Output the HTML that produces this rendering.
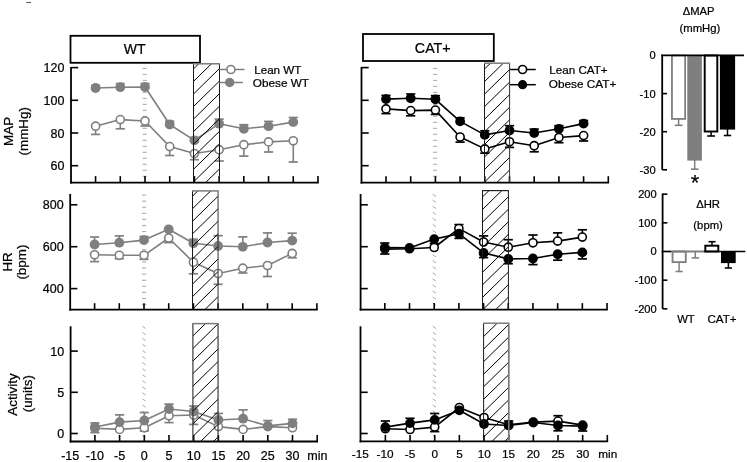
<!DOCTYPE html>
<html><head><meta charset="utf-8"><style>html,body{margin:0;padding:0;background:#fff;width:747px;height:462px;overflow:hidden}body{font-family:"Liberation Sans", sans-serif;position:relative}svg text{stroke:#000;stroke-width:0.22px;paint-order:stroke}</style></head><body>
<svg width="747" height="462" viewBox="0 0 747 462" style="position:absolute;left:0;top:0;font-family:'Liberation Sans', sans-serif;filter:grayscale(1)">
<defs><clipPath id="h1"><rect x="193.5" y="63.8" width="26" height="118.5"/></clipPath><clipPath id="h2"><rect x="192.5" y="190.9" width="25.55" height="118.6"/></clipPath><clipPath id="h3"><rect x="192.9" y="323.6" width="25.15" height="117.7"/></clipPath><clipPath id="h4"><rect x="484.5" y="63.2" width="25.1" height="119.1"/></clipPath><clipPath id="h5"><rect x="482.5" y="190.6" width="25.9" height="119"/></clipPath><clipPath id="h6"><rect x="483.6" y="323.2" width="25.2" height="118"/></clipPath></defs>
<rect width="747" height="462" fill="#fff"/>
<line x1="26.3" y1="2.5" x2="31" y2="2.5" stroke="#555" stroke-width="1"/>
<rect x="70.5" y="35.8" width="129.5" height="27" fill="none" stroke="#000" stroke-width="1.8"/>
<text x="134.6" y="54.1" font-size="14" text-anchor="middle">WT</text>
<rect x="363" y="34" width="130.8" height="27" fill="none" stroke="#000" stroke-width="1.8"/>
<text x="432.75" y="52.75" font-size="14.25" text-anchor="middle">CAT+</text>
<text transform="translate(12.7,131.4) rotate(-90)" font-size="13.4" text-anchor="middle">MAP</text>
<text transform="translate(28.2,131.3) rotate(-90)" font-size="13.4" text-anchor="middle">(mmHg)</text>
<text transform="translate(11.7,261.9) rotate(-90)" font-size="13.4" text-anchor="middle">HR</text>
<text transform="translate(26.2,262.1) rotate(-90)" font-size="13.4" text-anchor="middle">(bpm)</text>
<text transform="translate(16.8,394.5) rotate(-90)" font-size="13.4" text-anchor="middle">Activity</text>
<text transform="translate(32.3,393.7) rotate(-90)" font-size="13.4" text-anchor="middle">(units)</text>
<path d="M142.6,68.4h4.2M142.6,74.39h4.2M142.6,80.38h4.2M142.6,86.37h4.2M142.6,92.36h4.2M142.6,98.35h4.2M142.6,104.34h4.2M142.6,110.33h4.2M142.6,116.32h4.2M142.6,122.31h4.2M142.6,128.3h4.2M142.6,134.29h4.2M142.6,140.28h4.2M142.6,146.27h4.2M142.6,152.26h4.2M142.6,158.25h4.2M142.6,164.24h4.2M142.6,170.23h4.2M142.6,176.22h4.2" stroke="#a8a8a8" stroke-width="1" fill="none"/>
<line x1="71" y1="67" x2="71" y2="183.5" stroke="#000" stroke-width="1.8"/>
<line x1="71" y1="67.6" x2="78.2" y2="67.6" stroke="#000" stroke-width="1.6"/>
<text x="64.4" y="72.1" font-size="12.5" text-anchor="end">120</text>
<line x1="71" y1="100.3" x2="78.2" y2="100.3" stroke="#000" stroke-width="1.6"/>
<text x="64.4" y="104.8" font-size="12.5" text-anchor="end">100</text>
<line x1="71" y1="133" x2="78.2" y2="133" stroke="#000" stroke-width="1.6"/>
<text x="64.4" y="137.5" font-size="12.5" text-anchor="end">80</text>
<line x1="71" y1="165.7" x2="78.2" y2="165.7" stroke="#000" stroke-width="1.6"/>
<text x="64.4" y="170.2" font-size="12.5" text-anchor="end">60</text>
<line x1="70.1" y1="182.6" x2="318.77" y2="182.6" stroke="#000" stroke-width="1.8"/>
<line x1="95.58" y1="182.6" x2="95.58" y2="176.1" stroke="#000" stroke-width="1.6"/>
<line x1="120.29" y1="182.6" x2="120.29" y2="176.1" stroke="#000" stroke-width="1.6"/>
<line x1="145" y1="182.6" x2="145" y2="176.1" stroke="#000" stroke-width="1.6"/>
<line x1="169.71" y1="182.6" x2="169.71" y2="176.1" stroke="#000" stroke-width="1.6"/>
<line x1="194.42" y1="182.6" x2="194.42" y2="176.1" stroke="#000" stroke-width="1.6"/>
<line x1="219.13" y1="182.6" x2="219.13" y2="176.1" stroke="#000" stroke-width="1.6"/>
<line x1="243.84" y1="182.6" x2="243.84" y2="176.1" stroke="#000" stroke-width="1.6"/>
<line x1="268.55" y1="182.6" x2="268.55" y2="176.1" stroke="#000" stroke-width="1.6"/>
<line x1="293.26" y1="182.6" x2="293.26" y2="176.1" stroke="#000" stroke-width="1.6"/>
<line x1="317.97" y1="182.6" x2="317.97" y2="176.1" stroke="#000" stroke-width="1.6"/>
<polyline points="95.58,126.2 120.29,119.6 145,121 169.71,146.6 194.42,153.5 219.13,149.7 243.84,144.7 268.55,141.9 293.26,140.8" fill="none" stroke="#7f7f7f" stroke-width="1.6" stroke-linejoin="round"/>
<line x1="95.58" y1="126.2" x2="95.58" y2="134.4" stroke="#7f7f7f" stroke-width="1.6"/>
<line x1="90.98" y1="134.4" x2="100.18" y2="134.4" stroke="#7f7f7f" stroke-width="1.7"/>
<line x1="120.29" y1="119.6" x2="120.29" y2="128.8" stroke="#7f7f7f" stroke-width="1.6"/>
<line x1="115.69" y1="128.8" x2="124.89" y2="128.8" stroke="#7f7f7f" stroke-width="1.7"/>
<line x1="145" y1="121" x2="145" y2="126" stroke="#7f7f7f" stroke-width="1.6"/>
<line x1="140.4" y1="126" x2="149.6" y2="126" stroke="#7f7f7f" stroke-width="1.7"/>
<line x1="169.71" y1="146.6" x2="169.71" y2="155.5" stroke="#7f7f7f" stroke-width="1.6"/>
<line x1="165.11" y1="155.5" x2="174.31" y2="155.5" stroke="#7f7f7f" stroke-width="1.7"/>
<line x1="194.42" y1="153.5" x2="194.42" y2="159.7" stroke="#7f7f7f" stroke-width="1.6"/>
<line x1="189.82" y1="159.7" x2="199.02" y2="159.7" stroke="#7f7f7f" stroke-width="1.7"/>
<line x1="219.13" y1="149.7" x2="219.13" y2="161" stroke="#7f7f7f" stroke-width="1.6"/>
<line x1="214.53" y1="161" x2="223.73" y2="161" stroke="#7f7f7f" stroke-width="1.7"/>
<line x1="243.84" y1="144.7" x2="243.84" y2="156.1" stroke="#7f7f7f" stroke-width="1.6"/>
<line x1="239.24" y1="156.1" x2="248.44" y2="156.1" stroke="#7f7f7f" stroke-width="1.7"/>
<line x1="268.55" y1="141.9" x2="268.55" y2="152" stroke="#7f7f7f" stroke-width="1.6"/>
<line x1="263.95" y1="152" x2="273.15" y2="152" stroke="#7f7f7f" stroke-width="1.7"/>
<line x1="293.26" y1="140.8" x2="293.26" y2="162" stroke="#7f7f7f" stroke-width="1.6"/>
<line x1="288.66" y1="162" x2="297.86" y2="162" stroke="#7f7f7f" stroke-width="1.7"/>
<polyline points="95.58,88 120.29,87.2 145,87 169.71,124.5 194.42,140.3 219.13,123.7 243.84,128.8 268.55,126.2 293.26,122.1" fill="none" stroke="#7f7f7f" stroke-width="1.6" stroke-linejoin="round"/>
<line x1="95.58" y1="88" x2="95.58" y2="85.5" stroke="#7f7f7f" stroke-width="1.6"/>
<line x1="90.98" y1="85.5" x2="100.18" y2="85.5" stroke="#7f7f7f" stroke-width="1.7"/>
<line x1="120.29" y1="87.2" x2="120.29" y2="83.6" stroke="#7f7f7f" stroke-width="1.6"/>
<line x1="115.69" y1="83.6" x2="124.89" y2="83.6" stroke="#7f7f7f" stroke-width="1.7"/>
<line x1="145" y1="87" x2="145" y2="83.6" stroke="#7f7f7f" stroke-width="1.6"/>
<line x1="140.4" y1="83.6" x2="149.6" y2="83.6" stroke="#7f7f7f" stroke-width="1.7"/>
<line x1="169.71" y1="124.5" x2="169.71" y2="121.2" stroke="#7f7f7f" stroke-width="1.6"/>
<line x1="165.11" y1="121.2" x2="174.31" y2="121.2" stroke="#7f7f7f" stroke-width="1.7"/>
<line x1="194.42" y1="140.3" x2="194.42" y2="137.5" stroke="#7f7f7f" stroke-width="1.6"/>
<line x1="189.82" y1="137.5" x2="199.02" y2="137.5" stroke="#7f7f7f" stroke-width="1.7"/>
<line x1="219.13" y1="123.7" x2="219.13" y2="119.1" stroke="#7f7f7f" stroke-width="1.6"/>
<line x1="214.53" y1="119.1" x2="223.73" y2="119.1" stroke="#7f7f7f" stroke-width="1.7"/>
<line x1="243.84" y1="128.8" x2="243.84" y2="124.7" stroke="#7f7f7f" stroke-width="1.6"/>
<line x1="239.24" y1="124.7" x2="248.44" y2="124.7" stroke="#7f7f7f" stroke-width="1.7"/>
<line x1="268.55" y1="126.2" x2="268.55" y2="121.4" stroke="#7f7f7f" stroke-width="1.6"/>
<line x1="263.95" y1="121.4" x2="273.15" y2="121.4" stroke="#7f7f7f" stroke-width="1.7"/>
<line x1="293.26" y1="122.1" x2="293.26" y2="117.5" stroke="#7f7f7f" stroke-width="1.6"/>
<line x1="288.66" y1="117.5" x2="297.86" y2="117.5" stroke="#7f7f7f" stroke-width="1.7"/>
<circle cx="95.58" cy="126.2" r="4.05" fill="#fff" stroke="#7f7f7f" stroke-width="1.6"/>
<circle cx="120.29" cy="119.6" r="4.05" fill="#fff" stroke="#7f7f7f" stroke-width="1.6"/>
<circle cx="145" cy="121" r="4.05" fill="#fff" stroke="#7f7f7f" stroke-width="1.6"/>
<circle cx="169.71" cy="146.6" r="4.05" fill="#fff" stroke="#7f7f7f" stroke-width="1.6"/>
<circle cx="194.42" cy="153.5" r="4.05" fill="#fff" stroke="#7f7f7f" stroke-width="1.6"/>
<circle cx="219.13" cy="149.7" r="4.05" fill="#fff" stroke="#7f7f7f" stroke-width="1.6"/>
<circle cx="243.84" cy="144.7" r="4.05" fill="#fff" stroke="#7f7f7f" stroke-width="1.6"/>
<circle cx="268.55" cy="141.9" r="4.05" fill="#fff" stroke="#7f7f7f" stroke-width="1.6"/>
<circle cx="293.26" cy="140.8" r="4.05" fill="#fff" stroke="#7f7f7f" stroke-width="1.6"/>
<circle cx="95.58" cy="88" r="4.9" fill="#7f7f7f"/>
<circle cx="120.29" cy="87.2" r="4.9" fill="#7f7f7f"/>
<circle cx="145" cy="87" r="4.9" fill="#7f7f7f"/>
<circle cx="169.71" cy="124.5" r="4.9" fill="#7f7f7f"/>
<circle cx="194.42" cy="140.3" r="4.9" fill="#7f7f7f"/>
<circle cx="219.13" cy="123.7" r="4.9" fill="#7f7f7f"/>
<circle cx="243.84" cy="128.8" r="4.9" fill="#7f7f7f"/>
<circle cx="268.55" cy="126.2" r="4.9" fill="#7f7f7f"/>
<circle cx="293.26" cy="122.1" r="4.9" fill="#7f7f7f"/>
<path clip-path="url(#h1)" d="M192.5,44.7L220.5,17.26M192.5,57.26L220.5,29.82M192.5,69.82L220.5,42.38M192.5,82.38L220.5,54.94M192.5,94.94L220.5,67.5M192.5,107.5L220.5,80.06M192.5,120.06L220.5,92.62M192.5,132.62L220.5,105.18M192.5,145.18L220.5,117.74M192.5,157.74L220.5,130.3M192.5,170.3L220.5,142.86M192.5,182.86L220.5,155.42M192.5,195.42L220.5,167.98M192.5,207.98L220.5,180.54M192.5,220.54L220.5,193.1M192.5,233.1L220.5,205.66" stroke="#000" stroke-width="1.0" fill="none"/>
<line x1="193.5" y1="63.8" x2="193.5" y2="182.3" stroke="#1a1a1a" stroke-width="1.0"/>
<line x1="219.5" y1="63.8" x2="219.5" y2="182.3" stroke="#1a1a1a" stroke-width="1.0"/>
<line x1="193" y1="63.8" x2="220" y2="63.8" stroke="#7a7a7a" stroke-width="1.5"/>
<line x1="219.3" y1="69.5" x2="244.4" y2="69.5" stroke="#7f7f7f" stroke-width="1.5"/>
<circle cx="230.9" cy="69.5" r="4" fill="#fff" stroke="#7f7f7f" stroke-width="1.6"/>
<line x1="219.3" y1="82.5" x2="242.9" y2="82.5" stroke="#7f7f7f" stroke-width="1.5"/>
<circle cx="229.7" cy="82.5" r="4.75" fill="#7f7f7f"/>
<text x="254.2" y="73.7" font-size="11.65">Lean WT</text>
<text x="252.8" y="86.6" font-size="11.75">Obese WT</text>
<path d="M142,195.1h4.2M142,201.18h4.2M142,207.26h4.2M142,213.34h4.2M142,219.42h4.2M142,225.5h4.2M142,231.58h4.2M142,237.66h4.2M142,243.74h4.2M142,249.82h4.2M142,255.9h4.2M142,261.98h4.2M142,268.06h4.2M142,274.14h4.2M142,280.22h4.2M142,286.3h4.2M142,292.38h4.2M142,298.46h4.2M142,304.54h4.2" stroke="#a8a8a8" stroke-width="1" fill="none"/>
<line x1="70.2" y1="194" x2="70.2" y2="310.6" stroke="#000" stroke-width="1.8"/>
<line x1="70.2" y1="204.8" x2="77.4" y2="204.8" stroke="#000" stroke-width="1.6"/>
<text x="63.6" y="209.3" font-size="12.5" text-anchor="end">800</text>
<line x1="70.2" y1="246.7" x2="77.4" y2="246.7" stroke="#000" stroke-width="1.6"/>
<text x="63.6" y="251.2" font-size="12.5" text-anchor="end">600</text>
<line x1="70.2" y1="288.6" x2="77.4" y2="288.6" stroke="#000" stroke-width="1.6"/>
<text x="63.6" y="293.1" font-size="12.5" text-anchor="end">400</text>
<line x1="69.3" y1="309.7" x2="317.7" y2="309.7" stroke="#000" stroke-width="1.8"/>
<line x1="94.6" y1="309.7" x2="94.6" y2="303.2" stroke="#000" stroke-width="1.6"/>
<line x1="119.3" y1="309.7" x2="119.3" y2="303.2" stroke="#000" stroke-width="1.6"/>
<line x1="144" y1="309.7" x2="144" y2="303.2" stroke="#000" stroke-width="1.6"/>
<line x1="168.7" y1="309.7" x2="168.7" y2="303.2" stroke="#000" stroke-width="1.6"/>
<line x1="193.4" y1="309.7" x2="193.4" y2="303.2" stroke="#000" stroke-width="1.6"/>
<line x1="218.1" y1="309.7" x2="218.1" y2="303.2" stroke="#000" stroke-width="1.6"/>
<line x1="242.8" y1="309.7" x2="242.8" y2="303.2" stroke="#000" stroke-width="1.6"/>
<line x1="267.5" y1="309.7" x2="267.5" y2="303.2" stroke="#000" stroke-width="1.6"/>
<line x1="292.2" y1="309.7" x2="292.2" y2="303.2" stroke="#000" stroke-width="1.6"/>
<line x1="316.9" y1="309.7" x2="316.9" y2="303.2" stroke="#000" stroke-width="1.6"/>
<polyline points="94.6,254.8 119.3,255.3 144,255.3 168.7,238 193.4,262.2 218.1,273.5 242.8,268.2 267.5,265.5 292.2,253.4" fill="none" stroke="#7f7f7f" stroke-width="1.6" stroke-linejoin="round"/>
<line x1="94.6" y1="254.8" x2="94.6" y2="261.6" stroke="#7f7f7f" stroke-width="1.6"/>
<line x1="90" y1="261.6" x2="99.2" y2="261.6" stroke="#7f7f7f" stroke-width="1.7"/>
<line x1="119.3" y1="255.3" x2="119.3" y2="258.7" stroke="#7f7f7f" stroke-width="1.6"/>
<line x1="114.7" y1="258.7" x2="123.9" y2="258.7" stroke="#7f7f7f" stroke-width="1.7"/>
<line x1="144" y1="255.3" x2="144" y2="259.3" stroke="#7f7f7f" stroke-width="1.6"/>
<line x1="139.4" y1="259.3" x2="148.6" y2="259.3" stroke="#7f7f7f" stroke-width="1.7"/>
<line x1="168.7" y1="238" x2="168.7" y2="242.6" stroke="#7f7f7f" stroke-width="1.6"/>
<line x1="164.1" y1="242.6" x2="173.3" y2="242.6" stroke="#7f7f7f" stroke-width="1.7"/>
<line x1="193.4" y1="262.2" x2="193.4" y2="273.8" stroke="#7f7f7f" stroke-width="1.6"/>
<line x1="188.8" y1="273.8" x2="198" y2="273.8" stroke="#7f7f7f" stroke-width="1.7"/>
<line x1="218.1" y1="273.5" x2="218.1" y2="284.3" stroke="#7f7f7f" stroke-width="1.6"/>
<line x1="213.5" y1="284.3" x2="222.7" y2="284.3" stroke="#7f7f7f" stroke-width="1.7"/>
<line x1="242.8" y1="268.2" x2="242.8" y2="273" stroke="#7f7f7f" stroke-width="1.6"/>
<line x1="238.2" y1="273" x2="247.4" y2="273" stroke="#7f7f7f" stroke-width="1.7"/>
<line x1="267.5" y1="265.5" x2="267.5" y2="276.5" stroke="#7f7f7f" stroke-width="1.6"/>
<line x1="262.9" y1="276.5" x2="272.1" y2="276.5" stroke="#7f7f7f" stroke-width="1.7"/>
<line x1="292.2" y1="253.4" x2="292.2" y2="257.8" stroke="#7f7f7f" stroke-width="1.6"/>
<line x1="287.6" y1="257.8" x2="296.8" y2="257.8" stroke="#7f7f7f" stroke-width="1.7"/>
<polyline points="94.6,244.5 119.3,242.7 144,240.1 168.7,229.3 193.4,243.3 218.1,246 242.8,246.8 267.5,242.5 292.2,240.6" fill="none" stroke="#7f7f7f" stroke-width="1.6" stroke-linejoin="round"/>
<line x1="94.6" y1="244.5" x2="94.6" y2="237" stroke="#7f7f7f" stroke-width="1.6"/>
<line x1="90" y1="237" x2="99.2" y2="237" stroke="#7f7f7f" stroke-width="1.7"/>
<line x1="119.3" y1="242.7" x2="119.3" y2="235.9" stroke="#7f7f7f" stroke-width="1.6"/>
<line x1="114.7" y1="235.9" x2="123.9" y2="235.9" stroke="#7f7f7f" stroke-width="1.7"/>
<line x1="144" y1="240.1" x2="144" y2="236.5" stroke="#7f7f7f" stroke-width="1.6"/>
<line x1="139.4" y1="236.5" x2="148.6" y2="236.5" stroke="#7f7f7f" stroke-width="1.7"/>
<line x1="193.4" y1="243.3" x2="193.4" y2="239.3" stroke="#7f7f7f" stroke-width="1.6"/>
<line x1="188.8" y1="239.3" x2="198" y2="239.3" stroke="#7f7f7f" stroke-width="1.7"/>
<line x1="218.1" y1="246" x2="218.1" y2="235.7" stroke="#7f7f7f" stroke-width="1.6"/>
<line x1="213.5" y1="235.7" x2="222.7" y2="235.7" stroke="#7f7f7f" stroke-width="1.7"/>
<line x1="242.8" y1="246.8" x2="242.8" y2="236.9" stroke="#7f7f7f" stroke-width="1.6"/>
<line x1="238.2" y1="236.9" x2="247.4" y2="236.9" stroke="#7f7f7f" stroke-width="1.7"/>
<line x1="267.5" y1="242.5" x2="267.5" y2="232.9" stroke="#7f7f7f" stroke-width="1.6"/>
<line x1="262.9" y1="232.9" x2="272.1" y2="232.9" stroke="#7f7f7f" stroke-width="1.7"/>
<line x1="292.2" y1="240.6" x2="292.2" y2="233.2" stroke="#7f7f7f" stroke-width="1.6"/>
<line x1="287.6" y1="233.2" x2="296.8" y2="233.2" stroke="#7f7f7f" stroke-width="1.7"/>
<circle cx="94.6" cy="254.8" r="4.05" fill="#fff" stroke="#7f7f7f" stroke-width="1.6"/>
<circle cx="119.3" cy="255.3" r="4.05" fill="#fff" stroke="#7f7f7f" stroke-width="1.6"/>
<circle cx="144" cy="255.3" r="4.05" fill="#fff" stroke="#7f7f7f" stroke-width="1.6"/>
<circle cx="168.7" cy="238" r="4.05" fill="#fff" stroke="#7f7f7f" stroke-width="1.6"/>
<circle cx="193.4" cy="262.2" r="4.05" fill="#fff" stroke="#7f7f7f" stroke-width="1.6"/>
<circle cx="218.1" cy="273.5" r="4.05" fill="#fff" stroke="#7f7f7f" stroke-width="1.6"/>
<circle cx="242.8" cy="268.2" r="4.05" fill="#fff" stroke="#7f7f7f" stroke-width="1.6"/>
<circle cx="267.5" cy="265.5" r="4.05" fill="#fff" stroke="#7f7f7f" stroke-width="1.6"/>
<circle cx="292.2" cy="253.4" r="4.05" fill="#fff" stroke="#7f7f7f" stroke-width="1.6"/>
<circle cx="94.6" cy="244.5" r="4.9" fill="#7f7f7f"/>
<circle cx="119.3" cy="242.7" r="4.9" fill="#7f7f7f"/>
<circle cx="144" cy="240.1" r="4.9" fill="#7f7f7f"/>
<circle cx="168.7" cy="229.3" r="4.9" fill="#7f7f7f"/>
<circle cx="193.4" cy="243.3" r="4.9" fill="#7f7f7f"/>
<circle cx="218.1" cy="246" r="4.9" fill="#7f7f7f"/>
<circle cx="242.8" cy="246.8" r="4.9" fill="#7f7f7f"/>
<circle cx="267.5" cy="242.5" r="4.9" fill="#7f7f7f"/>
<circle cx="292.2" cy="240.6" r="4.9" fill="#7f7f7f"/>
<path clip-path="url(#h2)" d="M191.5,172L219.05,145M191.5,184.56L219.05,157.56M191.5,197.12L219.05,170.12M191.5,209.68L219.05,182.68M191.5,222.24L219.05,195.24M191.5,234.8L219.05,207.8M191.5,247.36L219.05,220.36M191.5,259.92L219.05,232.92M191.5,272.48L219.05,245.48M191.5,285.04L219.05,258.04M191.5,297.6L219.05,270.6M191.5,310.16L219.05,283.16M191.5,322.72L219.05,295.72M191.5,335.28L219.05,308.28M191.5,347.84L219.05,320.84M191.5,360.4L219.05,333.4" stroke="#000" stroke-width="1.0" fill="none"/>
<line x1="192.5" y1="190.9" x2="192.5" y2="309.5" stroke="#1a1a1a" stroke-width="1.0"/>
<line x1="218.05" y1="190.9" x2="218.05" y2="309.5" stroke="#333" stroke-width="1.0"/>
<line x1="192" y1="190.9" x2="218.55" y2="190.9" stroke="#7a7a7a" stroke-width="1.5"/>
<path d="M142.45,326.25l3.2,2.3M142.45,332.3l3.2,2.3M142.45,338.35l3.2,2.3M142.45,344.4l3.2,2.3M142.45,350.45l3.2,2.3M142.45,356.5l3.2,2.3M142.45,362.55l3.2,2.3M142.45,368.6l3.2,2.3M142.45,374.65l3.2,2.3M142.45,380.7l3.2,2.3M142.45,386.75l3.2,2.3M142.45,392.8l3.2,2.3M142.45,398.85l3.2,2.3M142.45,404.9l3.2,2.3M142.45,410.95l3.2,2.3M142.45,417l3.2,2.3M142.45,423.05l3.2,2.3M142.45,429.1l3.2,2.3M142.45,435.15l3.2,2.3" stroke="#a8a8a8" stroke-width="1" fill="none"/>
<line x1="70.6" y1="326.3" x2="70.6" y2="442.4" stroke="#000" stroke-width="1.8"/>
<line x1="70.6" y1="351.1" x2="77.8" y2="351.1" stroke="#000" stroke-width="1.6"/>
<text x="64.2" y="355.6" font-size="12.5" text-anchor="end">10</text>
<line x1="70.6" y1="392.3" x2="77.8" y2="392.3" stroke="#000" stroke-width="1.6"/>
<text x="64.2" y="396.8" font-size="12.5" text-anchor="end">5</text>
<line x1="70.6" y1="433.5" x2="77.8" y2="433.5" stroke="#000" stroke-width="1.6"/>
<text x="64.2" y="438" font-size="12.5" text-anchor="end">0</text>
<line x1="69.7" y1="441.5" x2="318" y2="441.5" stroke="#000" stroke-width="1.8"/>
<line x1="94.9" y1="441.5" x2="94.9" y2="435" stroke="#000" stroke-width="1.6"/>
<line x1="119.6" y1="441.5" x2="119.6" y2="435" stroke="#000" stroke-width="1.6"/>
<line x1="144.3" y1="441.5" x2="144.3" y2="435" stroke="#000" stroke-width="1.6"/>
<line x1="169" y1="441.5" x2="169" y2="435" stroke="#000" stroke-width="1.6"/>
<line x1="193.7" y1="441.5" x2="193.7" y2="435" stroke="#000" stroke-width="1.6"/>
<line x1="218.4" y1="441.5" x2="218.4" y2="435" stroke="#000" stroke-width="1.6"/>
<line x1="243.1" y1="441.5" x2="243.1" y2="435" stroke="#000" stroke-width="1.6"/>
<line x1="267.8" y1="441.5" x2="267.8" y2="435" stroke="#000" stroke-width="1.6"/>
<line x1="292.5" y1="441.5" x2="292.5" y2="435" stroke="#000" stroke-width="1.6"/>
<line x1="317.2" y1="441.5" x2="317.2" y2="435" stroke="#000" stroke-width="1.6"/>
<polyline points="94.9,428.2 119.6,429.4 144.3,427.8 169,415.7 193.7,415 218.4,426.6 243.1,429.4 267.8,426.6 292.5,427.7" fill="none" stroke="#7f7f7f" stroke-width="1.6" stroke-linejoin="round"/>
<line x1="94.9" y1="428.2" x2="94.9" y2="432.6" stroke="#7f7f7f" stroke-width="1.6"/>
<line x1="90.3" y1="432.6" x2="99.5" y2="432.6" stroke="#7f7f7f" stroke-width="1.7"/>
<line x1="144.3" y1="427.8" x2="144.3" y2="431" stroke="#7f7f7f" stroke-width="1.6"/>
<line x1="139.7" y1="431" x2="148.9" y2="431" stroke="#7f7f7f" stroke-width="1.7"/>
<line x1="169" y1="415.7" x2="169" y2="422.6" stroke="#7f7f7f" stroke-width="1.6"/>
<line x1="164.4" y1="422.6" x2="173.6" y2="422.6" stroke="#7f7f7f" stroke-width="1.7"/>
<line x1="193.7" y1="415" x2="193.7" y2="424.4" stroke="#7f7f7f" stroke-width="1.6"/>
<line x1="189.1" y1="424.4" x2="198.3" y2="424.4" stroke="#7f7f7f" stroke-width="1.7"/>
<polyline points="94.9,427 119.6,422.1 144.3,420.5 169,409 193.7,411.5 218.4,420 243.1,418.7 267.8,425.9 292.5,423.4" fill="none" stroke="#7f7f7f" stroke-width="1.6" stroke-linejoin="round"/>
<line x1="94.9" y1="427" x2="94.9" y2="423" stroke="#7f7f7f" stroke-width="1.6"/>
<line x1="90.3" y1="423" x2="99.5" y2="423" stroke="#7f7f7f" stroke-width="1.7"/>
<line x1="119.6" y1="422.1" x2="119.6" y2="414.9" stroke="#7f7f7f" stroke-width="1.6"/>
<line x1="115" y1="414.9" x2="124.2" y2="414.9" stroke="#7f7f7f" stroke-width="1.7"/>
<line x1="144.3" y1="420.5" x2="144.3" y2="412.5" stroke="#7f7f7f" stroke-width="1.6"/>
<line x1="139.7" y1="412.5" x2="148.9" y2="412.5" stroke="#7f7f7f" stroke-width="1.7"/>
<line x1="169" y1="409" x2="169" y2="404.1" stroke="#7f7f7f" stroke-width="1.6"/>
<line x1="164.4" y1="404.1" x2="173.6" y2="404.1" stroke="#7f7f7f" stroke-width="1.7"/>
<line x1="193.7" y1="411.5" x2="193.7" y2="406" stroke="#7f7f7f" stroke-width="1.6"/>
<line x1="189.1" y1="406" x2="198.3" y2="406" stroke="#7f7f7f" stroke-width="1.7"/>
<line x1="218.4" y1="420" x2="218.4" y2="413.5" stroke="#7f7f7f" stroke-width="1.6"/>
<line x1="213.8" y1="413.5" x2="223" y2="413.5" stroke="#7f7f7f" stroke-width="1.7"/>
<line x1="243.1" y1="418.7" x2="243.1" y2="409.9" stroke="#7f7f7f" stroke-width="1.6"/>
<line x1="238.5" y1="409.9" x2="247.7" y2="409.9" stroke="#7f7f7f" stroke-width="1.7"/>
<line x1="267.8" y1="425.9" x2="267.8" y2="420.6" stroke="#7f7f7f" stroke-width="1.6"/>
<line x1="263.2" y1="420.6" x2="272.4" y2="420.6" stroke="#7f7f7f" stroke-width="1.7"/>
<line x1="292.5" y1="423.4" x2="292.5" y2="419.3" stroke="#7f7f7f" stroke-width="1.6"/>
<line x1="287.9" y1="419.3" x2="297.1" y2="419.3" stroke="#7f7f7f" stroke-width="1.7"/>
<circle cx="94.9" cy="428.2" r="4.05" fill="#fff" stroke="#7f7f7f" stroke-width="1.6"/>
<circle cx="119.6" cy="429.4" r="4.05" fill="#fff" stroke="#7f7f7f" stroke-width="1.6"/>
<circle cx="144.3" cy="427.8" r="4.05" fill="#fff" stroke="#7f7f7f" stroke-width="1.6"/>
<circle cx="169" cy="415.7" r="4.05" fill="#fff" stroke="#7f7f7f" stroke-width="1.6"/>
<circle cx="193.7" cy="415" r="4.05" fill="#fff" stroke="#7f7f7f" stroke-width="1.6"/>
<circle cx="218.4" cy="426.6" r="4.05" fill="#fff" stroke="#7f7f7f" stroke-width="1.6"/>
<circle cx="243.1" cy="429.4" r="4.05" fill="#fff" stroke="#7f7f7f" stroke-width="1.6"/>
<circle cx="267.8" cy="426.6" r="4.05" fill="#fff" stroke="#7f7f7f" stroke-width="1.6"/>
<circle cx="292.5" cy="427.7" r="4.05" fill="#fff" stroke="#7f7f7f" stroke-width="1.6"/>
<circle cx="94.9" cy="427" r="4.9" fill="#7f7f7f"/>
<circle cx="119.6" cy="422.1" r="4.9" fill="#7f7f7f"/>
<circle cx="144.3" cy="420.5" r="4.9" fill="#7f7f7f"/>
<circle cx="169" cy="409" r="4.9" fill="#7f7f7f"/>
<circle cx="193.7" cy="411.5" r="4.9" fill="#7f7f7f"/>
<circle cx="218.4" cy="420" r="4.9" fill="#7f7f7f"/>
<circle cx="243.1" cy="418.7" r="4.9" fill="#7f7f7f"/>
<circle cx="267.8" cy="425.9" r="4.9" fill="#7f7f7f"/>
<circle cx="292.5" cy="423.4" r="4.9" fill="#7f7f7f"/>
<path clip-path="url(#h3)" d="M191.9,311.8L219.05,285.19M191.9,324.36L219.05,297.75M191.9,336.92L219.05,310.31M191.9,349.48L219.05,322.87M191.9,362.04L219.05,335.43M191.9,374.6L219.05,347.99M191.9,387.16L219.05,360.55M191.9,399.72L219.05,373.11M191.9,412.28L219.05,385.67M191.9,424.84L219.05,398.23M191.9,437.4L219.05,410.79M191.9,449.96L219.05,423.35M191.9,462.52L219.05,435.91M191.9,475.08L219.05,448.47M191.9,487.64L219.05,461.03" stroke="#000" stroke-width="1.0" fill="none"/>
<line x1="192.9" y1="323.6" x2="192.9" y2="441.3" stroke="#2a2a2a" stroke-width="1.1"/>
<line x1="218.05" y1="323.6" x2="218.05" y2="441.3" stroke="#2a2a2a" stroke-width="1.1"/>
<line x1="192.4" y1="323.6" x2="218.55" y2="323.6" stroke="#7a7a7a" stroke-width="1.5"/>
<text x="70.2" y="459.8" font-size="12.5" text-anchor="middle">-15</text>
<text x="94.9" y="459.8" font-size="12.5" text-anchor="middle">-10</text>
<text x="119.6" y="459.8" font-size="12.5" text-anchor="middle">-5</text>
<text x="144.3" y="459.8" font-size="12.5" text-anchor="middle">0</text>
<text x="169" y="459.8" font-size="12.5" text-anchor="middle">5</text>
<text x="193.7" y="459.8" font-size="12.5" text-anchor="middle">10</text>
<text x="218.4" y="459.8" font-size="12.5" text-anchor="middle">15</text>
<text x="243.1" y="459.8" font-size="12.5" text-anchor="middle">20</text>
<text x="267.8" y="459.8" font-size="12.5" text-anchor="middle">25</text>
<text x="292.5" y="459.8" font-size="12.5" text-anchor="middle">30</text>
<text x="307.3" y="459.8" font-size="12.5">min</text>
<path d="M433,68.4h4.2M433,74.39h4.2M433,80.38h4.2M433,86.37h4.2M433,92.36h4.2M433,98.35h4.2M433,104.34h4.2M433,110.33h4.2M433,116.32h4.2M433,122.31h4.2M433,128.3h4.2M433,134.29h4.2M433,140.28h4.2M433,146.27h4.2M433,152.26h4.2M433,158.25h4.2M433,164.24h4.2M433,170.23h4.2M433,176.22h4.2" stroke="#a8a8a8" stroke-width="1" fill="none"/>
<line x1="361.5" y1="67" x2="361.5" y2="183.6" stroke="#000" stroke-width="1.8"/>
<line x1="361.5" y1="67.6" x2="368.7" y2="67.6" stroke="#000" stroke-width="1.6"/>
<line x1="361.5" y1="100.3" x2="368.7" y2="100.3" stroke="#000" stroke-width="1.6"/>
<line x1="361.5" y1="133" x2="368.7" y2="133" stroke="#000" stroke-width="1.6"/>
<line x1="361.5" y1="165.7" x2="368.7" y2="165.7" stroke="#000" stroke-width="1.6"/>
<line x1="360.6" y1="182.7" x2="609.1" y2="182.7" stroke="#000" stroke-width="1.8"/>
<line x1="386" y1="182.7" x2="386" y2="176.2" stroke="#000" stroke-width="1.6"/>
<line x1="410.7" y1="182.7" x2="410.7" y2="176.2" stroke="#000" stroke-width="1.6"/>
<line x1="435.4" y1="182.7" x2="435.4" y2="176.2" stroke="#000" stroke-width="1.6"/>
<line x1="460.1" y1="182.7" x2="460.1" y2="176.2" stroke="#000" stroke-width="1.6"/>
<line x1="484.8" y1="182.7" x2="484.8" y2="176.2" stroke="#000" stroke-width="1.6"/>
<line x1="509.5" y1="182.7" x2="509.5" y2="176.2" stroke="#000" stroke-width="1.6"/>
<line x1="534.2" y1="182.7" x2="534.2" y2="176.2" stroke="#000" stroke-width="1.6"/>
<line x1="558.9" y1="182.7" x2="558.9" y2="176.2" stroke="#000" stroke-width="1.6"/>
<line x1="583.6" y1="182.7" x2="583.6" y2="176.2" stroke="#000" stroke-width="1.6"/>
<line x1="608.3" y1="182.7" x2="608.3" y2="176.2" stroke="#000" stroke-width="1.6"/>
<polyline points="386,108.9 410.7,110.6 435.4,110.1 460.1,137 484.8,148.9 509.5,141.8 534.2,145.7 558.9,137.5 583.6,135.6" fill="none" stroke="#000" stroke-width="1.6" stroke-linejoin="round"/>
<line x1="386" y1="108.9" x2="386" y2="113.6" stroke="#000" stroke-width="1.6"/>
<line x1="381.4" y1="113.6" x2="390.6" y2="113.6" stroke="#000" stroke-width="1.7"/>
<line x1="410.7" y1="110.6" x2="410.7" y2="115.8" stroke="#000" stroke-width="1.6"/>
<line x1="406.1" y1="115.8" x2="415.3" y2="115.8" stroke="#000" stroke-width="1.7"/>
<line x1="435.4" y1="110.1" x2="435.4" y2="114.4" stroke="#000" stroke-width="1.6"/>
<line x1="430.8" y1="114.4" x2="440" y2="114.4" stroke="#000" stroke-width="1.7"/>
<line x1="460.1" y1="137" x2="460.1" y2="142.1" stroke="#000" stroke-width="1.6"/>
<line x1="455.5" y1="142.1" x2="464.7" y2="142.1" stroke="#000" stroke-width="1.7"/>
<line x1="484.8" y1="148.9" x2="484.8" y2="153.2" stroke="#000" stroke-width="1.6"/>
<line x1="480.2" y1="153.2" x2="489.4" y2="153.2" stroke="#000" stroke-width="1.7"/>
<line x1="509.5" y1="141.8" x2="509.5" y2="147.4" stroke="#000" stroke-width="1.6"/>
<line x1="504.9" y1="147.4" x2="514.1" y2="147.4" stroke="#000" stroke-width="1.7"/>
<line x1="534.2" y1="145.7" x2="534.2" y2="151.8" stroke="#000" stroke-width="1.6"/>
<line x1="529.6" y1="151.8" x2="538.8" y2="151.8" stroke="#000" stroke-width="1.7"/>
<line x1="558.9" y1="137.5" x2="558.9" y2="142.7" stroke="#000" stroke-width="1.6"/>
<line x1="554.3" y1="142.7" x2="563.5" y2="142.7" stroke="#000" stroke-width="1.7"/>
<line x1="583.6" y1="135.6" x2="583.6" y2="141" stroke="#000" stroke-width="1.6"/>
<line x1="579" y1="141" x2="588.2" y2="141" stroke="#000" stroke-width="1.7"/>
<polyline points="386,99.1 410.7,98.3 435.4,99.3 460.1,121.4 484.8,134.9 509.5,130.5 534.2,133 558.9,128.8 583.6,123.6" fill="none" stroke="#000" stroke-width="1.6" stroke-linejoin="round"/>
<line x1="386" y1="99.1" x2="386" y2="95.4" stroke="#000" stroke-width="1.6"/>
<line x1="381.4" y1="95.4" x2="390.6" y2="95.4" stroke="#000" stroke-width="1.7"/>
<line x1="410.7" y1="98.3" x2="410.7" y2="94" stroke="#000" stroke-width="1.6"/>
<line x1="406.1" y1="94" x2="415.3" y2="94" stroke="#000" stroke-width="1.7"/>
<line x1="435.4" y1="99.3" x2="435.4" y2="95.7" stroke="#000" stroke-width="1.6"/>
<line x1="430.8" y1="95.7" x2="440" y2="95.7" stroke="#000" stroke-width="1.7"/>
<line x1="460.1" y1="121.4" x2="460.1" y2="117.9" stroke="#000" stroke-width="1.6"/>
<line x1="455.5" y1="117.9" x2="464.7" y2="117.9" stroke="#000" stroke-width="1.7"/>
<line x1="484.8" y1="134.9" x2="484.8" y2="130.8" stroke="#000" stroke-width="1.6"/>
<line x1="480.2" y1="130.8" x2="489.4" y2="130.8" stroke="#000" stroke-width="1.7"/>
<line x1="509.5" y1="130.5" x2="509.5" y2="125.7" stroke="#000" stroke-width="1.6"/>
<line x1="504.9" y1="125.7" x2="514.1" y2="125.7" stroke="#000" stroke-width="1.7"/>
<line x1="534.2" y1="133" x2="534.2" y2="129.1" stroke="#000" stroke-width="1.6"/>
<line x1="529.6" y1="129.1" x2="538.8" y2="129.1" stroke="#000" stroke-width="1.7"/>
<line x1="558.9" y1="128.8" x2="558.9" y2="125.7" stroke="#000" stroke-width="1.6"/>
<line x1="554.3" y1="125.7" x2="563.5" y2="125.7" stroke="#000" stroke-width="1.7"/>
<line x1="583.6" y1="123.6" x2="583.6" y2="120.5" stroke="#000" stroke-width="1.6"/>
<line x1="579" y1="120.5" x2="588.2" y2="120.5" stroke="#000" stroke-width="1.7"/>
<circle cx="386" cy="108.9" r="4.05" fill="#fff" stroke="#000" stroke-width="1.6"/>
<circle cx="410.7" cy="110.6" r="4.05" fill="#fff" stroke="#000" stroke-width="1.6"/>
<circle cx="435.4" cy="110.1" r="4.05" fill="#fff" stroke="#000" stroke-width="1.6"/>
<circle cx="460.1" cy="137" r="4.05" fill="#fff" stroke="#000" stroke-width="1.6"/>
<circle cx="484.8" cy="148.9" r="4.05" fill="#fff" stroke="#000" stroke-width="1.6"/>
<circle cx="509.5" cy="141.8" r="4.05" fill="#fff" stroke="#000" stroke-width="1.6"/>
<circle cx="534.2" cy="145.7" r="4.05" fill="#fff" stroke="#000" stroke-width="1.6"/>
<circle cx="558.9" cy="137.5" r="4.05" fill="#fff" stroke="#000" stroke-width="1.6"/>
<circle cx="583.6" cy="135.6" r="4.05" fill="#fff" stroke="#000" stroke-width="1.6"/>
<circle cx="386" cy="99.1" r="4.9" fill="#000"/>
<circle cx="410.7" cy="98.3" r="4.9" fill="#000"/>
<circle cx="435.4" cy="99.3" r="4.9" fill="#000"/>
<circle cx="460.1" cy="121.4" r="4.9" fill="#000"/>
<circle cx="484.8" cy="134.9" r="4.9" fill="#000"/>
<circle cx="509.5" cy="130.5" r="4.9" fill="#000"/>
<circle cx="534.2" cy="133" r="4.9" fill="#000"/>
<circle cx="558.9" cy="128.8" r="4.9" fill="#000"/>
<circle cx="583.6" cy="123.6" r="4.9" fill="#000"/>
<path clip-path="url(#h4)" d="M483.5,44.9L510.6,18.34M483.5,57.46L510.6,30.9M483.5,70.02L510.6,43.46M483.5,82.58L510.6,56.02M483.5,95.14L510.6,68.58M483.5,107.7L510.6,81.14M483.5,120.26L510.6,93.7M483.5,132.82L510.6,106.26M483.5,145.38L510.6,118.82M483.5,157.94L510.6,131.38M483.5,170.5L510.6,143.94M483.5,183.06L510.6,156.5M483.5,195.62L510.6,169.06M483.5,208.18L510.6,181.62M483.5,220.74L510.6,194.18" stroke="#000" stroke-width="1.0" fill="none"/>
<line x1="484.5" y1="63.2" x2="484.5" y2="182.3" stroke="#1a1a1a" stroke-width="1.0"/>
<line x1="509.6" y1="63.2" x2="509.6" y2="182.3" stroke="#333" stroke-width="1.0"/>
<line x1="484" y1="63.2" x2="510.1" y2="63.2" stroke="#7a7a7a" stroke-width="1.5"/>
<line x1="510.1" y1="69.5" x2="535.8" y2="69.5" stroke="#000" stroke-width="1.5"/>
<circle cx="522.6" cy="69.5" r="4" fill="#fff" stroke="#000" stroke-width="1.6"/>
<line x1="510.1" y1="84.7" x2="535.8" y2="84.7" stroke="#000" stroke-width="1.5"/>
<circle cx="522.6" cy="84.7" r="4.6" fill="#000"/>
<text x="549.3" y="73.7" font-size="11.65">Lean CAT+</text>
<text x="548.8" y="88.3" font-size="11.8">Obese CAT+</text>
<path d="M432.7,194.1l3.2,2.3M432.7,200.15l3.2,2.3M432.7,206.2l3.2,2.3M432.7,212.25l3.2,2.3M432.7,218.3l3.2,2.3M432.7,224.35l3.2,2.3M432.7,230.4l3.2,2.3M432.7,236.45l3.2,2.3M432.7,242.5l3.2,2.3M432.7,248.55l3.2,2.3M432.7,254.6l3.2,2.3M432.7,260.65l3.2,2.3M432.7,266.7l3.2,2.3M432.7,272.75l3.2,2.3M432.7,278.8l3.2,2.3M432.7,284.85l3.2,2.3M432.7,290.9l3.2,2.3M432.7,296.95l3.2,2.3M432.7,303l3.2,2.3" stroke="#a8a8a8" stroke-width="1" fill="none"/>
<line x1="360.6" y1="194.05" x2="360.6" y2="310.5" stroke="#000" stroke-width="1.8"/>
<line x1="360.6" y1="204.8" x2="367.8" y2="204.8" stroke="#000" stroke-width="1.6"/>
<line x1="360.6" y1="246.7" x2="367.8" y2="246.7" stroke="#000" stroke-width="1.6"/>
<line x1="360.6" y1="288.6" x2="367.8" y2="288.6" stroke="#000" stroke-width="1.6"/>
<line x1="359.7" y1="309.6" x2="607.83" y2="309.6" stroke="#000" stroke-width="1.8"/>
<line x1="384.82" y1="309.6" x2="384.82" y2="303.1" stroke="#000" stroke-width="1.6"/>
<line x1="409.51" y1="309.6" x2="409.51" y2="303.1" stroke="#000" stroke-width="1.6"/>
<line x1="434.2" y1="309.6" x2="434.2" y2="303.1" stroke="#000" stroke-width="1.6"/>
<line x1="458.89" y1="309.6" x2="458.89" y2="303.1" stroke="#000" stroke-width="1.6"/>
<line x1="483.58" y1="309.6" x2="483.58" y2="303.1" stroke="#000" stroke-width="1.6"/>
<line x1="508.27" y1="309.6" x2="508.27" y2="303.1" stroke="#000" stroke-width="1.6"/>
<line x1="532.96" y1="309.6" x2="532.96" y2="303.1" stroke="#000" stroke-width="1.6"/>
<line x1="557.65" y1="309.6" x2="557.65" y2="303.1" stroke="#000" stroke-width="1.6"/>
<line x1="582.34" y1="309.6" x2="582.34" y2="303.1" stroke="#000" stroke-width="1.6"/>
<line x1="607.03" y1="309.6" x2="607.03" y2="303.1" stroke="#000" stroke-width="1.6"/>
<polyline points="384.82,249.1 409.51,248.7 434.2,247.5 458.89,228.6 483.58,242 508.27,247.2 532.96,242.8 557.65,241.1 582.34,237.1" fill="none" stroke="#000" stroke-width="1.6" stroke-linejoin="round"/>
<line x1="384.82" y1="249.1" x2="384.82" y2="254" stroke="#000" stroke-width="1.6"/>
<line x1="380.22" y1="254" x2="389.42" y2="254" stroke="#000" stroke-width="1.7"/>
<line x1="458.89" y1="228.6" x2="458.89" y2="224.6" stroke="#000" stroke-width="1.6"/>
<line x1="454.29" y1="224.6" x2="463.49" y2="224.6" stroke="#000" stroke-width="1.7"/>
<line x1="483.58" y1="242" x2="483.58" y2="235.9" stroke="#000" stroke-width="1.6"/>
<line x1="478.98" y1="235.9" x2="488.18" y2="235.9" stroke="#000" stroke-width="1.7"/>
<line x1="508.27" y1="247.2" x2="508.27" y2="239.7" stroke="#000" stroke-width="1.6"/>
<line x1="503.67" y1="239.7" x2="512.87" y2="239.7" stroke="#000" stroke-width="1.7"/>
<line x1="532.96" y1="242.8" x2="532.96" y2="235" stroke="#000" stroke-width="1.6"/>
<line x1="528.36" y1="235" x2="537.56" y2="235" stroke="#000" stroke-width="1.7"/>
<line x1="557.65" y1="241.1" x2="557.65" y2="232.9" stroke="#000" stroke-width="1.6"/>
<line x1="553.05" y1="232.9" x2="562.25" y2="232.9" stroke="#000" stroke-width="1.7"/>
<line x1="582.34" y1="237.1" x2="582.34" y2="229.8" stroke="#000" stroke-width="1.6"/>
<line x1="577.74" y1="229.8" x2="586.94" y2="229.8" stroke="#000" stroke-width="1.7"/>
<polyline points="384.82,247.6 409.51,247.9 434.2,239.1 458.89,233.7 483.58,252.9 508.27,258.9 532.96,258.5 557.65,254.2 582.34,252.4" fill="none" stroke="#000" stroke-width="1.6" stroke-linejoin="round"/>
<line x1="384.82" y1="247.6" x2="384.82" y2="243" stroke="#000" stroke-width="1.6"/>
<line x1="380.22" y1="243" x2="389.42" y2="243" stroke="#000" stroke-width="1.7"/>
<line x1="434.2" y1="239.1" x2="434.2" y2="243.5" stroke="#000" stroke-width="1.6"/>
<line x1="429.6" y1="243.5" x2="438.8" y2="243.5" stroke="#000" stroke-width="1.7"/>
<line x1="458.89" y1="233.7" x2="458.89" y2="238.4" stroke="#000" stroke-width="1.6"/>
<line x1="454.29" y1="238.4" x2="463.49" y2="238.4" stroke="#000" stroke-width="1.7"/>
<line x1="483.58" y1="252.9" x2="483.58" y2="257.6" stroke="#000" stroke-width="1.6"/>
<line x1="478.98" y1="257.6" x2="488.18" y2="257.6" stroke="#000" stroke-width="1.7"/>
<line x1="508.27" y1="258.9" x2="508.27" y2="263.7" stroke="#000" stroke-width="1.6"/>
<line x1="503.67" y1="263.7" x2="512.87" y2="263.7" stroke="#000" stroke-width="1.7"/>
<line x1="532.96" y1="258.5" x2="532.96" y2="264.6" stroke="#000" stroke-width="1.6"/>
<line x1="528.36" y1="264.6" x2="537.56" y2="264.6" stroke="#000" stroke-width="1.7"/>
<line x1="557.65" y1="254.2" x2="557.65" y2="260.2" stroke="#000" stroke-width="1.6"/>
<line x1="553.05" y1="260.2" x2="562.25" y2="260.2" stroke="#000" stroke-width="1.7"/>
<line x1="582.34" y1="252.4" x2="582.34" y2="258.9" stroke="#000" stroke-width="1.6"/>
<line x1="577.74" y1="258.9" x2="586.94" y2="258.9" stroke="#000" stroke-width="1.7"/>
<circle cx="384.82" cy="249.1" r="4.05" fill="#fff" stroke="#000" stroke-width="1.6"/>
<circle cx="409.51" cy="248.7" r="4.05" fill="#fff" stroke="#000" stroke-width="1.6"/>
<circle cx="434.2" cy="247.5" r="4.05" fill="#fff" stroke="#000" stroke-width="1.6"/>
<circle cx="458.89" cy="228.6" r="4.05" fill="#fff" stroke="#000" stroke-width="1.6"/>
<circle cx="483.58" cy="242" r="4.05" fill="#fff" stroke="#000" stroke-width="1.6"/>
<circle cx="508.27" cy="247.2" r="4.05" fill="#fff" stroke="#000" stroke-width="1.6"/>
<circle cx="532.96" cy="242.8" r="4.05" fill="#fff" stroke="#000" stroke-width="1.6"/>
<circle cx="557.65" cy="241.1" r="4.05" fill="#fff" stroke="#000" stroke-width="1.6"/>
<circle cx="582.34" cy="237.1" r="4.05" fill="#fff" stroke="#000" stroke-width="1.6"/>
<circle cx="384.82" cy="247.6" r="4.9" fill="#000"/>
<circle cx="409.51" cy="247.9" r="4.9" fill="#000"/>
<circle cx="434.2" cy="239.1" r="4.9" fill="#000"/>
<circle cx="458.89" cy="233.7" r="4.9" fill="#000"/>
<circle cx="483.58" cy="252.9" r="4.9" fill="#000"/>
<circle cx="508.27" cy="258.9" r="4.9" fill="#000"/>
<circle cx="532.96" cy="258.5" r="4.9" fill="#000"/>
<circle cx="557.65" cy="254.2" r="4.9" fill="#000"/>
<circle cx="582.34" cy="252.4" r="4.9" fill="#000"/>
<path clip-path="url(#h5)" d="M481.5,172.8L509.4,145.46M481.5,185.36L509.4,158.02M481.5,197.92L509.4,170.58M481.5,210.48L509.4,183.14M481.5,223.04L509.4,195.7M481.5,235.6L509.4,208.26M481.5,248.16L509.4,220.82M481.5,260.72L509.4,233.38M481.5,273.28L509.4,245.94M481.5,285.84L509.4,258.5M481.5,298.4L509.4,271.06M481.5,310.96L509.4,283.62M481.5,323.52L509.4,296.18M481.5,336.08L509.4,308.74M481.5,348.64L509.4,321.3" stroke="#000" stroke-width="1.0" fill="none"/>
<line x1="482.5" y1="190.6" x2="482.5" y2="309.6" stroke="#1a1a1a" stroke-width="1.0"/>
<line x1="508.4" y1="190.6" x2="508.4" y2="309.6" stroke="#1a1a1a" stroke-width="1.0"/>
<line x1="482" y1="190.6" x2="508.9" y2="190.6" stroke="#222" stroke-width="1.2"/>
<path d="M432.8,326.25l3.2,2.3M432.8,332.3l3.2,2.3M432.8,338.35l3.2,2.3M432.8,344.4l3.2,2.3M432.8,350.45l3.2,2.3M432.8,356.5l3.2,2.3M432.8,362.55l3.2,2.3M432.8,368.6l3.2,2.3M432.8,374.65l3.2,2.3M432.8,380.7l3.2,2.3M432.8,386.75l3.2,2.3M432.8,392.8l3.2,2.3M432.8,398.85l3.2,2.3M432.8,404.9l3.2,2.3M432.8,410.95l3.2,2.3M432.8,417l3.2,2.3M432.8,423.05l3.2,2.3M432.8,429.1l3.2,2.3M432.8,435.15l3.2,2.3" stroke="#a8a8a8" stroke-width="1" fill="none"/>
<line x1="360.5" y1="326.3" x2="360.5" y2="442.3" stroke="#000" stroke-width="1.8"/>
<line x1="360.5" y1="351.1" x2="367.7" y2="351.1" stroke="#000" stroke-width="1.6"/>
<line x1="360.5" y1="392.3" x2="367.7" y2="392.3" stroke="#000" stroke-width="1.6"/>
<line x1="360.5" y1="433.5" x2="367.7" y2="433.5" stroke="#000" stroke-width="1.6"/>
<line x1="359.6" y1="441.4" x2="608.12" y2="441.4" stroke="#000" stroke-width="1.8"/>
<line x1="385.38" y1="441.4" x2="385.38" y2="434.9" stroke="#000" stroke-width="1.6"/>
<line x1="410.04" y1="441.4" x2="410.04" y2="434.9" stroke="#000" stroke-width="1.6"/>
<line x1="434.7" y1="441.4" x2="434.7" y2="434.9" stroke="#000" stroke-width="1.6"/>
<line x1="459.36" y1="441.4" x2="459.36" y2="434.9" stroke="#000" stroke-width="1.6"/>
<line x1="484.02" y1="441.4" x2="484.02" y2="434.9" stroke="#000" stroke-width="1.6"/>
<line x1="508.68" y1="441.4" x2="508.68" y2="434.9" stroke="#000" stroke-width="1.6"/>
<line x1="533.34" y1="441.4" x2="533.34" y2="434.9" stroke="#000" stroke-width="1.6"/>
<line x1="558" y1="441.4" x2="558" y2="434.9" stroke="#000" stroke-width="1.6"/>
<line x1="582.66" y1="441.4" x2="582.66" y2="434.9" stroke="#000" stroke-width="1.6"/>
<line x1="607.32" y1="441.4" x2="607.32" y2="434.9" stroke="#000" stroke-width="1.6"/>
<polyline points="385.38,428.7 410.04,429.5 434.7,427.1 459.36,407.5 484.02,417.5 508.68,424.7 533.34,422.1 558,421.1 582.66,425.1" fill="none" stroke="#000" stroke-width="1.6" stroke-linejoin="round"/>
<line x1="434.7" y1="427.1" x2="434.7" y2="431.6" stroke="#000" stroke-width="1.6"/>
<line x1="430.1" y1="431.6" x2="439.3" y2="431.6" stroke="#000" stroke-width="1.7"/>
<line x1="558" y1="421.1" x2="558" y2="415.7" stroke="#000" stroke-width="1.6"/>
<line x1="553.4" y1="415.7" x2="562.6" y2="415.7" stroke="#000" stroke-width="1.7"/>
<polyline points="385.38,427.1 410.04,423.1 434.7,419.9 459.36,410.3 484.02,424 508.68,425.5 533.34,422.5 558,425.5 582.66,426.1" fill="none" stroke="#000" stroke-width="1.6" stroke-linejoin="round"/>
<line x1="385.38" y1="427.1" x2="385.38" y2="421" stroke="#000" stroke-width="1.6"/>
<line x1="380.78" y1="421" x2="389.98" y2="421" stroke="#000" stroke-width="1.7"/>
<line x1="410.04" y1="423.1" x2="410.04" y2="418.3" stroke="#000" stroke-width="1.6"/>
<line x1="405.44" y1="418.3" x2="414.64" y2="418.3" stroke="#000" stroke-width="1.7"/>
<line x1="434.7" y1="419.9" x2="434.7" y2="413.5" stroke="#000" stroke-width="1.6"/>
<line x1="430.1" y1="413.5" x2="439.3" y2="413.5" stroke="#000" stroke-width="1.7"/>
<line x1="459.36" y1="410.3" x2="459.36" y2="407" stroke="#000" stroke-width="1.6"/>
<line x1="454.76" y1="407" x2="463.96" y2="407" stroke="#000" stroke-width="1.7"/>
<line x1="508.68" y1="425.5" x2="508.68" y2="421" stroke="#000" stroke-width="1.6"/>
<line x1="504.08" y1="421" x2="513.28" y2="421" stroke="#000" stroke-width="1.7"/>
<line x1="558" y1="425.5" x2="558" y2="430.8" stroke="#000" stroke-width="1.6"/>
<line x1="553.4" y1="430.8" x2="562.6" y2="430.8" stroke="#000" stroke-width="1.7"/>
<line x1="582.66" y1="426.1" x2="582.66" y2="431" stroke="#000" stroke-width="1.6"/>
<line x1="578.06" y1="431" x2="587.26" y2="431" stroke="#000" stroke-width="1.7"/>
<circle cx="385.38" cy="428.7" r="4.05" fill="#fff" stroke="#000" stroke-width="1.6"/>
<circle cx="410.04" cy="429.5" r="4.05" fill="#fff" stroke="#000" stroke-width="1.6"/>
<circle cx="434.7" cy="427.1" r="4.05" fill="#fff" stroke="#000" stroke-width="1.6"/>
<circle cx="459.36" cy="407.5" r="4.05" fill="#fff" stroke="#000" stroke-width="1.6"/>
<circle cx="484.02" cy="417.5" r="4.05" fill="#fff" stroke="#000" stroke-width="1.6"/>
<circle cx="508.68" cy="424.7" r="4.05" fill="#fff" stroke="#000" stroke-width="1.6"/>
<circle cx="533.34" cy="422.1" r="4.05" fill="#fff" stroke="#000" stroke-width="1.6"/>
<circle cx="558" cy="421.1" r="4.05" fill="#fff" stroke="#000" stroke-width="1.6"/>
<circle cx="582.66" cy="425.1" r="4.05" fill="#fff" stroke="#000" stroke-width="1.6"/>
<circle cx="385.38" cy="427.1" r="4.9" fill="#000"/>
<circle cx="410.04" cy="423.1" r="4.9" fill="#000"/>
<circle cx="434.7" cy="419.9" r="4.9" fill="#000"/>
<circle cx="459.36" cy="410.3" r="4.9" fill="#000"/>
<circle cx="484.02" cy="424" r="4.9" fill="#000"/>
<circle cx="508.68" cy="425.5" r="4.9" fill="#000"/>
<circle cx="533.34" cy="422.5" r="4.9" fill="#000"/>
<circle cx="558" cy="425.5" r="4.9" fill="#000"/>
<circle cx="582.66" cy="426.1" r="4.9" fill="#000"/>
<path clip-path="url(#h6)" d="M482.6,299.84L509.8,273.18M482.6,312.4L509.8,285.74M482.6,324.96L509.8,298.3M482.6,337.52L509.8,310.86M482.6,350.08L509.8,323.42M482.6,362.64L509.8,335.98M482.6,375.2L509.8,348.54M482.6,387.76L509.8,361.1M482.6,400.32L509.8,373.66M482.6,412.88L509.8,386.22M482.6,425.44L509.8,398.78M482.6,438L509.8,411.34M482.6,450.56L509.8,423.9M482.6,463.12L509.8,436.46M482.6,475.68L509.8,449.02M482.6,488.24L509.8,461.58" stroke="#000" stroke-width="1.0" fill="none"/>
<line x1="483.6" y1="323.2" x2="483.6" y2="441.2" stroke="#1a1a1a" stroke-width="1.0"/>
<line x1="508.8" y1="323.2" x2="508.8" y2="441.2" stroke="#777" stroke-width="1.7"/>
<line x1="483.1" y1="323.2" x2="509.3" y2="323.2" stroke="#7a7a7a" stroke-width="1.5"/>
<text x="360.3" y="457.9" font-size="11.8" text-anchor="middle">-15</text>
<text x="385" y="457.9" font-size="11.8" text-anchor="middle">-10</text>
<text x="410" y="457.9" font-size="11.8" text-anchor="middle">-5</text>
<text x="434.8" y="457.9" font-size="11.8" text-anchor="middle">0</text>
<text x="459.6" y="457.9" font-size="11.8" text-anchor="middle">5</text>
<text x="484.2" y="457.9" font-size="11.8" text-anchor="middle">10</text>
<text x="508.6" y="457.9" font-size="11.8" text-anchor="middle">15</text>
<text x="533.3" y="457.9" font-size="11.8" text-anchor="middle">20</text>
<text x="558.1" y="457.9" font-size="11.8" text-anchor="middle">25</text>
<text x="582.7" y="457.9" font-size="11.8" text-anchor="middle">30</text>
<text x="598.3" y="457.9" font-size="11.8">min</text>
<text x="698.6" y="15.2" font-size="11.2" text-anchor="middle">&#916;MAP</text>
<text x="699.9" y="31.8" font-size="11.3" text-anchor="middle">(mmHg)</text>
<line x1="662.2" y1="54.6" x2="662.2" y2="169.8" stroke="#000" stroke-width="1.8"/>
<line x1="662.2" y1="93.6" x2="667" y2="93.6" stroke="#000" stroke-width="1.6"/>
<line x1="662.2" y1="131.7" x2="667" y2="131.7" stroke="#000" stroke-width="1.6"/>
<line x1="662.2" y1="169.8" x2="667" y2="169.8" stroke="#000" stroke-width="1.6"/>
<text transform="translate(655.6,58.8) scale(1.07,1)" font-size="10.4" text-anchor="end">0</text>
<text transform="translate(655.6,97.6) scale(1.07,1)" font-size="10.4" text-anchor="end">-10</text>
<text transform="translate(655.6,135.7) scale(1.07,1)" font-size="10.4" text-anchor="end">-20</text>
<text transform="translate(655.6,173.8) scale(1.07,1)" font-size="10.4" text-anchor="end">-30</text>
<line x1="678.6" y1="118.9" x2="678.6" y2="125.3" stroke="#7f7f7f" stroke-width="1.5"/>
<line x1="674.7" y1="125.3" x2="682.5" y2="125.3" stroke="#7f7f7f" stroke-width="1.6"/>
<rect x="671.95" y="55.5" width="13.2" height="63.4" fill="#fff" stroke="#7f7f7f" stroke-width="1.8"/>
<line x1="694.7" y1="160" x2="694.7" y2="169.2" stroke="#7f7f7f" stroke-width="1.5"/>
<line x1="691" y1="169.2" x2="698.5" y2="169.2" stroke="#7f7f7f" stroke-width="1.6"/>
<rect x="687.3" y="55.5" width="14.6" height="105.1" fill="#7f7f7f"/>
<line x1="711.1" y1="131.5" x2="711.1" y2="136" stroke="#000" stroke-width="1.5"/>
<line x1="707.2" y1="136" x2="715" y2="136" stroke="#000" stroke-width="1.6"/>
<rect x="704.7" y="55.5" width="12.6" height="76" fill="#fff" stroke="#000" stroke-width="1.95"/>
<line x1="727.5" y1="129" x2="727.5" y2="135.5" stroke="#000" stroke-width="1.5"/>
<line x1="723.8" y1="135.5" x2="731.2" y2="135.5" stroke="#000" stroke-width="1.6"/>
<rect x="719.9" y="55.5" width="15.2" height="74.1" fill="#000"/>
<line x1="661.3" y1="55.4" x2="744" y2="55.4" stroke="#000" stroke-width="1.8"/>
<text x="695.1" y="190.1" font-size="22" text-anchor="middle">*</text>
<line x1="662.6" y1="193.5" x2="662.6" y2="308.84" stroke="#000" stroke-width="1.8"/>
<line x1="662.6" y1="194.16" x2="667.4" y2="194.16" stroke="#000" stroke-width="1.6"/>
<line x1="662.6" y1="222.83" x2="667.4" y2="222.83" stroke="#000" stroke-width="1.6"/>
<line x1="662.6" y1="280.17" x2="667.4" y2="280.17" stroke="#000" stroke-width="1.6"/>
<line x1="662.6" y1="308.84" x2="667.4" y2="308.84" stroke="#000" stroke-width="1.6"/>
<text transform="translate(656.7,198.06) scale(1.07,1)" font-size="10.4" text-anchor="end">200</text>
<text transform="translate(656.7,226.73) scale(1.07,1)" font-size="10.4" text-anchor="end">100</text>
<text transform="translate(656.7,255.4) scale(1.07,1)" font-size="10.4" text-anchor="end">0</text>
<text transform="translate(656.7,284.07) scale(1.07,1)" font-size="10.4" text-anchor="end">-100</text>
<text transform="translate(656.7,312.74) scale(1.07,1)" font-size="10.4" text-anchor="end">-200</text>
<text x="708.1" y="207.8" font-size="11.3" text-anchor="middle">&#916;HR</text>
<text x="708.1" y="228.7" font-size="11.3" text-anchor="middle">(bpm)</text>
<line x1="679.1" y1="261.8" x2="679.1" y2="271.5" stroke="#7f7f7f" stroke-width="1.5"/>
<line x1="675.5" y1="271.5" x2="682.7" y2="271.5" stroke="#7f7f7f" stroke-width="1.6"/>
<rect x="672.55" y="251.5" width="13.2" height="10.6" fill="#fff" stroke="#7f7f7f" stroke-width="1.85"/>
<line x1="695.3" y1="251.3" x2="695.3" y2="257.9" stroke="#7f7f7f" stroke-width="1.5"/>
<line x1="691.6" y1="257.9" x2="699" y2="257.9" stroke="#7f7f7f" stroke-width="1.6"/>
<line x1="712" y1="245.9" x2="712" y2="241.7" stroke="#000" stroke-width="1.5"/>
<line x1="708.5" y1="241.7" x2="715.6" y2="241.7" stroke="#000" stroke-width="1.6"/>
<rect x="705.3" y="245.7" width="13" height="5.8" fill="#fff" stroke="#000" stroke-width="1.95"/>
<line x1="728.4" y1="262" x2="728.4" y2="268" stroke="#000" stroke-width="1.5"/>
<line x1="724.8" y1="268" x2="732" y2="268" stroke="#000" stroke-width="1.6"/>
<rect x="721" y="251.5" width="14.7" height="11.6" fill="#000"/>
<line x1="661.7" y1="251.5" x2="671.5" y2="251.5" stroke="#000" stroke-width="1.7"/>
<line x1="671.5" y1="251.5" x2="703.5" y2="251.5" stroke="#7f7f7f" stroke-width="1.9"/>
<line x1="703.5" y1="251.5" x2="745.3" y2="251.5" stroke="#000" stroke-width="1.7"/>
<text x="686" y="322.6" font-size="11.3" text-anchor="middle">WT</text>
<text x="722" y="322.6" font-size="11.6" text-anchor="middle">CAT+</text>
</svg>
</body></html>
